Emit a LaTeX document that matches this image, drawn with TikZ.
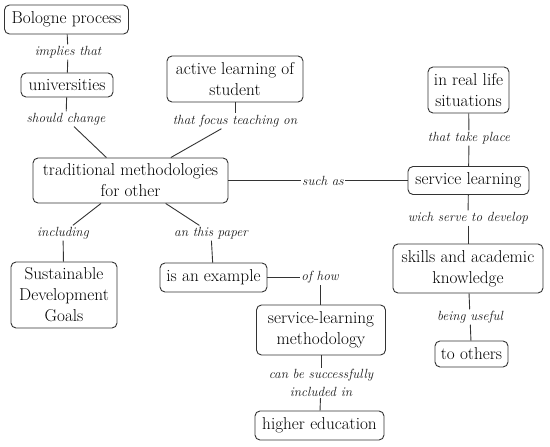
\documentclass[tikz,border=0pt]{standalone}
\usepackage{fontspec}
\setmainfont{Latin Modern Roman}
\begin{document}
\begin{tikzpicture}[x=1pt,y=-1pt,
  box/.style={draw=black!80, line width=0.9pt, rounded corners=5pt, align=center, inner sep=1pt,
    font=\fontsize{17.2}{21}\selectfont, text=black},
  lbl/.style={inner sep=1.5pt, align=center, font=\fontsize{13.3}{17.5}\selectfont\itshape, text=black!90},
  conn/.style={draw=black!80, line width=0.9pt}]
\useasboundingbox (0,0) rectangle (550,447);
% boxes
\node[box, minimum width=124pt, minimum height=29pt] (bol) at (66.5,19.5) {Bologne process};
\node[box, minimum width=92pt, minimum height=24pt] (uni) at (67,85) {universities};
\node[box, minimum width=136pt, minimum height=46pt] (act) at (235,79) {active learning of\\student};
\node[box, minimum width=195pt, minimum height=45pt] (trad) at (130.5,180.5) {traditional methodologies\\for other};
\node[box, minimum width=81pt, minimum height=46pt] (real) at (468.5,90) {in real life\\situations};
\node[box, minimum width=121pt, minimum height=28pt] (serv) at (468.5,180.5) {service learning};
\node[box, minimum width=150pt, minimum height=49pt] (skill) at (468,268.5) {skills and academic\\knowledge};
\node[box, minimum width=73pt, minimum height=26pt] (oth) at (471.5,354) {to others};
\node[box, minimum width=106pt, minimum height=66pt] (sdg) at (64,295) {Sustainable\\Development\\Goals};
\node[box, minimum width=107pt, minimum height=29pt] (ex) at (213.5,277.5) {is an example};
\node[box, minimum width=129pt, minimum height=50pt] (slm) at (321,330) {service-learning\\methodology};
\node[box, minimum width=129pt, minimum height=29pt] (he) at (319.5,425.5) {higher education};
% labels
\node[lbl] (l1) at (68,52) {implies that};
\node[lbl] (l2) at (66,119) {should change};
\node[lbl] (l3) at (235,121) {that focus teaching on};
\node[lbl] (l4) at (323,180.5) {such as};
\node[lbl] (l5) at (469,138) {that take place};
\node[lbl] (l6) at (468,218) {wich serve to develop};
\node[lbl] (l7) at (470,317) {being useful};
\node[lbl] (l8) at (63,233) {including};
\node[lbl] (l9) at (211,233) {an this paper};
\node[lbl] (l10) at (320,277.5) {of how};
\node[lbl] (l11) at (321,383) {can be successfully\\included in};
% connectors
\draw[conn] (bol) -- (l1);
\draw[conn] (l1) -- (uni);
\draw[conn] (uni) -- (l2);
\draw[conn] (l2) -- (trad);
\draw[conn] (act) -- (l3);
\draw[conn] (l3) -- (trad);
\draw[conn] (trad.east) -- (l4);
\draw[conn] (l4) -- (serv.west);
\draw[conn] (real) -- (l5);
\draw[conn] (l5) -- (serv);
\draw[conn] (serv) -- (l6);
\draw[conn] (l6) -- (skill);
\draw[conn] (skill) -- (l7);
\draw[conn] (l7) -- (oth);
\draw[conn] (trad) -- (l8);
\draw[conn] (l8) -- (sdg);
\draw[conn] (trad) -- (l9);
\draw[conn] (l9) -- (ex);
\draw[conn] (ex.east) -- (l10.west);
\draw[conn] (l10.south) -- (l10.south |- slm.north);
\draw[conn] (slm) -- (l11);
\draw[conn] (l11) -- (he);
\end{tikzpicture}
\end{document}
